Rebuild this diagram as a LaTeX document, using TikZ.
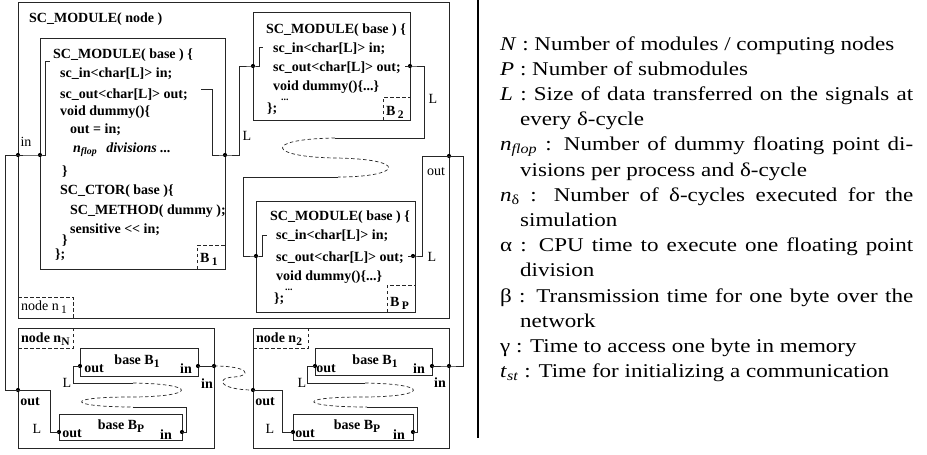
\documentclass[tikz,border=0pt]{standalone}
\usepackage{fontspec}
\setmainfont{Liberation Serif}
\usepackage{graphicx}
\newcommand{\codefont}{\fontsize{14}{16}\selectfont\bfseries}
\newcommand{\lblfont}{\fontsize{14}{16}\selectfont}
\newcommand{\rfont}{\fontsize{19.5}{24}\selectfont}
\newcommand{\lowr}[1]{\raisebox{-3.5pt}{\fontsize{11.5}{12}\selectfont #1}}
\newcommand{\jline}[1]{\scalebox{1.18}[1]{\makebox[350pt][s]{#1}}}
\newcommand{\nline}[1]{\scalebox{1.18}[1]{#1}}
\begin{document}
\begin{tikzpicture}[x=1pt,y=-1pt,
  wire/.style={line width=0.7pt, draw=black!85},
  dwire/.style={wire, dash pattern=on 3.5pt off 2.5pt},
  boxn/.style={wire, rectangle, inner sep=0, anchor=north west},
  pin/.style={circle, fill=black, inner sep=0, minimum size=4.2pt},
  code/.style={anchor=base west, inner sep=0, font=\codefont},
  lbl/.style={anchor=base, inner sep=0, font=\lblfont},
  blbl/.style={anchor=base, inner sep=0, font=\codefont},
  rtext/.style={anchor=base west, inner sep=0, font=\rfont},
]
\useasboundingbox (0,0) rectangle (927,455);

% ---------- boxes ----------
\node[boxn, minimum width=431pt, minimum height=316pt] (nodeA) at (18,2) {};
\node[boxn, minimum width=185pt, minimum height=231pt] (B1) at (40,38) {};
\node[boxn, minimum width=157pt, minimum height=108pt] (B2) at (253,12) {};
\node[boxn, minimum width=159pt, minimum height=111pt] (BP) at (256,201) {};

\node[boxn, minimum width=196pt, minimum height=120pt] (nN) at (18,328) {};
\node[boxn, minimum width=118pt, minimum height=28pt] (nNB1) at (80,348) {};
\node[boxn, minimum width=123pt, minimum height=26pt] (nNBP) at (59,414) {};
\node[boxn, minimum width=196pt, minimum height=120pt] (n2) at (253,328) {};
\node[boxn, minimum width=117pt, minimum height=27pt] (n2B1) at (315,348) {};
\node[boxn, minimum width=120pt, minimum height=26pt] (n2BP) at (293,414) {};

% dashed tags
\draw[dwire] (18,297) -- (73,297) -- (73,318);
\draw[dwire] (197,269) -- (197,245) -- (225,245);
\draw[dwire] (383,120) -- (383,97) -- (410,97);
\draw[dwire] (387,312) -- (387,285) -- (415,285);
\draw[dwire] (18,348) -- (73,348) -- (73,328);
\draw[dwire] (253,348) -- (308,348) -- (308,328);

% ---------- pins ----------
\node[pin] (pA1) at (18,155) {};
\node[pin] (b1in) at (40,155) {};
\node[pin] (b1out) at (225,155) {};
\node[pin] (b2in) at (253,66) {};
\node[pin] (b2out) at (410,66) {};
\node[pin] (bpin) at (256,256) {};
\node[pin] (bpout) at (413,256) {};
\node[pin] (pA2) at (449,156) {};

\node[pin] (nNout) at (18,390) {};
\node[pin] (nNin) at (214,366) {};
\node[pin] (nNb1in) at (198,366) {};
\node[pin] (nNb1out) at (80,366) {};
\node[pin] (nNbpin) at (182,432) {};
\node[pin] (nNbpout) at (59,432) {};
\node[pin] (n2out) at (253,390) {};
\node[pin] (n2in) at (449,366) {};
\node[pin] (n2b1in) at (432,366) {};
\node[pin] (n2b1out) at (315,366) {};
\node[pin] (n2bpin) at (413,432) {};
\node[pin] (n2bpout) at (293,432) {};

% ---------- wires ----------
\draw[wire] (nNout.center) -- (5,390) -- (5,155) -- (b1in.center) -- (45,155) -- (45,61) -- (50,61);
\draw[wire] (201,89) -- (212,89) -- (212,155) -- (b1out.center) -- (239,155) -- (239,66) -- (b2in.center) -- (259,66) -- (259,47) -- (263,47);
\draw[wire] (405,66) -- (b2out.center) -- (424,66) -- (424,138) -- (335,138);
\draw[dwire] (335,138) .. controls (262,139) and (268,157) .. (335,158) .. controls (410,159) and (402,177) .. (338,177);
\draw[wire] (338,177) -- (243,177) -- (243,256) -- (bpin.center) -- (262,256) -- (262,235) -- (267,235);
\draw[wire] (408,256) -- (bpout.center) -- (422,256) -- (422,156) -- (463,156) -- (463,366) -- (n2in.center) -- (n2b1in.center);

\draw[wire] (nNb1in.center) -- (nNin.center);
\draw[dwire] (nNin.center) .. controls (250,366) and (252,376) .. (234,377) .. controls (214,378) and (220,390) .. (n2out.center);
\draw[wire] (nNb1out.center) -- (73,366) -- (73,383) -- (133,383);
\draw[dwire] (133,383) .. controls (200,384) and (196,397) .. (130,397) .. controls (62,397) and (68,407) .. (133,407);
\draw[wire] (133,407) -- (186,407) -- (186,432) -- (nNbpin.center);
\draw[wire] (nNout.center) -- (50,390) -- (50,432) -- (nNbpout.center);

\draw[wire] (n2b1out.center) -- (307,366) -- (307,383) -- (365,383);
\draw[dwire] (365,383) .. controls (432,384) and (428,397) .. (362,397) .. controls (294,397) and (300,407) .. (367,407);
\draw[wire] (367,407) -- (417,407) -- (417,432) -- (n2bpin.center);
\draw[wire] (n2out.center) -- (282,390) -- (282,432) -- (n2bpout.center);

% separator
\draw[line width=2pt] (478,0) -- (478,438);

% ---------- code texts ----------
\node[code] (tnode) at (29,23) {SC\_MODULE( node )};
\node[code] (c1) at (53,58) {SC\_MODULE( base ) \{};
\node[code] (c2) at (60,77) {sc\_in<char[L]> in;};
\node[code] (c3) at (60,98) {sc\_out<char[L]> out;};
\node[code] (c4) at (60,115) {void dummy()\{};
\node[code] (c5) at (70,133) {out = in;};
\node[code] (c6) at (73,152) {\textit{n\textsubscript{flop}\hspace{9pt}divisions ...}};
\node[code] (c7) at (62,175) {\}};
\node[code] (c8) at (60,194) {SC\_CTOR( base )\{};
\node[code] (c9) at (70,214) {SC\_METHOD( dummy );};
\node[code] (c10) at (70,233) {sensitive <{}< in;};
\node[code] (c11) at (62,244) {\}};
\node[code] (c12) at (55,258) {\};};
\node[code] (tb1) at (200,262) {B\,\lowr{1}};

\node[code] (d1) at (266,33) {SC\_MODULE( base ) \{};
\node[code] (d2) at (273,52) {sc\_in<char[L]> in;};
\node[code] (d3) at (273,71) {sc\_out<char[L]> out;};
\node[code] (d4) at (273,90) {void dummy()\{...\}};
\node[code, font=\fontsize{10}{10}\selectfont\bfseries] (d5) at (281,100) {...};
\node[code] (d6) at (267,112) {\};};
\node[code] (tb2) at (386,115) {B\,\lowr{2}};

\node[code] (e1) at (270,220) {SC\_MODULE( base ) \{};
\node[code] (e2) at (276,239) {sc\_in<char[L]> in;};
\node[code] (e3) at (276,261) {sc\_out<char[L]> out;};
\node[code] (e4) at (276,280) {void dummy()\{...\}};
\node[code, font=\fontsize{10}{10}\selectfont\bfseries] (e5) at (285,290) {...};
\node[code] (e6) at (274,302) {\};};
\node[code] (tbp) at (390,306) {B\,\lowr{P}};

\node[anchor=base west, inner sep=0, font=\lblfont] (tn1) at (21,310) {node n\,\lowr{1}};

% wire labels (top)
\node[lbl] (lin) at (26,146) {in};
\node[lbl] (lL1) at (247,140) {L};
\node[lbl] (lL2) at (433,103) {L};
\node[lbl] (lout) at (436,175) {out};
\node[lbl] (lL3) at (432,261) {L};

% ---------- bottom nodes ----------
\node[code] (tnN) at (21,342) {node n\lowr{N}};
\node[code] (tn2) at (256,342) {node n\lowr{2}};

\node[blbl] (a1) at (137,364) {base B\lowr{1}};
\node[blbl] (a2) at (94,372) {out};
\node[blbl] (a3) at (186,373) {in};
\node[blbl] (a4) at (121,429) {base B\lowr{P}};
\node[blbl] (a5) at (72,437) {out};
\node[blbl] (a6) at (166,439) {in};

\node[blbl] (b1) at (375,364) {base B\lowr{1}};
\node[blbl] (b2) at (326,372) {out};
\node[blbl] (b3) at (419,373) {in};
\node[blbl] (b4) at (357,429) {base B\lowr{P}};
\node[blbl] (b5) at (305,437) {out};
\node[blbl] (b6) at (399,439) {in};

\node[lbl] (f1) at (67,387) {L};
\node[blbl] (f2) at (207,388) {in};
\node[blbl] (f3) at (30,405) {out};
\node[lbl] (f4) at (37,433) {L};
\node[lbl] (g1) at (302,387) {L};
\node[blbl] (g2) at (440,387) {in};
\node[blbl] (g3) at (265,405) {out};
\node[lbl] (g4) at (270,433) {L};

% ---------- right text ----------
\node[rtext] (r1) at (500,50) {\nline{\textit{N} : Number of modules / computing nodes}};
\node[rtext] (r2) at (500,75.2) {\nline{\textit{P} : Number of submodules}};
\node[rtext] (r3) at (500,100.4) {\jline{\textit{L} : Size of data transferred on the signals at}};
\node[rtext] (r4) at (520,125.6) {\nline{every δ-cycle}};
\node[rtext] (r5) at (500,150.8) {\jline{\textit{n}\textsubscript{\textit{flop}} : Number of dummy floating point di-}};
\node[rtext] (r6) at (520,176) {\nline{visions per process and δ-cycle}};
\node[rtext] (r7) at (500,201.2) {\jline{\textit{n}\textsubscript{δ} : Number of δ-cycles executed for the}};
\node[rtext] (r8) at (520,226.4) {\nline{simulation}};
\node[rtext] (r9) at (500,251.6) {\jline{α : CPU time to execute one floating point}};
\node[rtext] (r10) at (520,276.8) {\nline{division}};
\node[rtext] (r11) at (500,302) {\jline{β : Transmission time for one byte over the}};
\node[rtext] (r12) at (520,327.2) {\nline{network}};
\node[rtext] (r13) at (500,352.4) {\nline{γ : Time to access one byte in memory}};
\node[rtext] (r14) at (500,377.6) {\nline{\textit{t}\textsubscript{\textit{st}} : Time for initializing a communication}};
\end{tikzpicture}
\end{document}
